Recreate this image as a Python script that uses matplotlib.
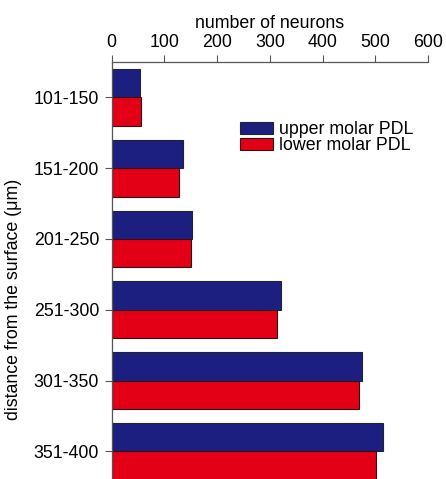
import numpy as np
import matplotlib.pyplot as plt

plt.rcParams["font.family"] = ["Liberation Sans", "DejaVu Sans"]

# Neuron counts per depth bin
depth_bins = ["101-150", "151-200", "201-250", "251-300", "301-350", "351-400"]
upper_molar = [53, 136, 152, 321, 475, 514]
lower_molar = [55, 128, 150, 314, 468, 502]
x_ticks = [0, 100, 200, 300, 400, 500, 600]

FS = 12.8

fig = plt.figure(figsize=(4.46, 4.79), dpi=100)
ax = fig.add_axes([0.2504, 0.0, 0.7096, 0.8706])

y = np.arange(len(depth_bins))
h = 0.4
ax.barh(y - h / 2, upper_molar, height=h, color="#1c1f80", edgecolor="#222233",
        linewidth=0.8, label="upper molar PDL")
ax.barh(y + h / 2, lower_molar, height=h, color="#e30016", edgecolor="#331111",
        linewidth=0.8, label="lower molar PDL")

ax.set_xlim(0, 600)
ax.set_ylim(5.39, -0.5)
ax.set_xticks(x_ticks)
ax.set_yticks(y)
ax.set_yticklabels(depth_bins)

ax.xaxis.tick_top()
ax.xaxis.set_label_position("top")
ax.set_xlabel("number of neurons", fontsize=FS, labelpad=4)
ax.set_ylabel("distance from the surface (\u03bcm)", fontsize=FS)
ax.yaxis.set_label_coords(-0.283, 0.43)

for side in ["right", "bottom"]:
    ax.spines[side].set_visible(False)
for side in ["top", "left"]:
    ax.spines[side].set_color("#555555")
    ax.spines[side].set_linewidth(0.9)

ax.tick_params(axis="both", labelsize=FS, length=5, width=0.8, color="#555555")
ax.tick_params(axis="x", pad=3)
ax.tick_params(axis="y", pad=4)

ax.legend(loc="upper left", bbox_to_anchor=(0.406, 0.858), frameon=False,
          fontsize=FS, handlelength=1.85, handleheight=0.65,
          handletextpad=0.35, labelspacing=-0.05, borderpad=0.0,
          borderaxespad=0.0)

fig.savefig("out.png", dpi=100)
